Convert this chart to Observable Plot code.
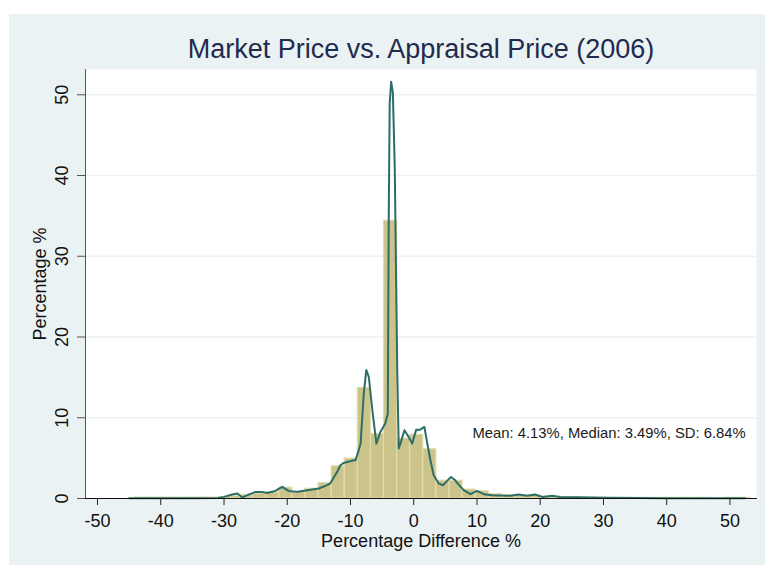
<!DOCTYPE html>
<html>
<head>
<meta charset="utf-8">
<script src="https://cdn.jsdelivr.net/npm/d3@7"></script>
<script src="https://cdn.jsdelivr.net/npm/@observablehq/plot@0.6"></script>
<style>
  html, body { margin: 0; padding: 0; background: #ffffff; }
  #panel { position: absolute; left: 9px; top: 14px; width: 756px; height: 551px; background: #eaf2f3; overflow: hidden; }
  #title { position: absolute; left: 412px; top: 22px; transform: translateX(-50%); white-space: nowrap;
           font-family: "Liberation Sans", Arial, sans-serif; font-size: 27px; line-height: 27px; color: #1e2b4e; }
  #chart { position: absolute; left: 0; top: 55px; }
</style>
</head>
<body>
<div id="panel">
  <div id="title"></div>
  <div id="chart"></div>
</div>
<script>
// ---------- data ----------
const titleText = "Market Price vs. Appraisal Price (2006)";
const xLabel = "Percentage Difference %";
const yLabel = "Percentage %";
const noteText = "Mean: 4.13%, Median: 3.49%, SD: 6.84%";
const noteX = 9.3;
const noteY = 8.1;

const xTicks = [-50, -40, -30, -20, -10, 0, 10, 20, 30, 40, 50];
const yTicks = [0, 10, 20, 30, 40, 50];

// histogram (percent per bin)
const binStart = -44.03;
const binWidth = 2.07;
const binPct = [0.12, 0.12, 0.12, 0.12, 0.12, 0.12, 0.12, 0.3, 0.45, 0.6,
                0.75, 1.35, 0.85, 1.2, 1.9, 4.0, 4.95, 13.7, 8.0, 34.4,
                7.4, 7.9, 6.1, 2.2, 2.2, 1.1, 0.9, 0.55, 0.4, 0.35,
                0.35, 0.2, 0.15, 0.12, 0.1, 0.1, 0.08, 0.08, 0.08, 0.08,
                0.08, 0.08, 0.08, 0.08, 0, 0.08, 0.08];

// kernel density overlay (scaled to percent)
const kdeX = [-45, -40, -35, -31, -30, -28.7, -27.9, -27.1, -26.3, -25.0, -24.0, -23.2, -21.9, -20.8, -19.8,
              -18.4, -17.9, -16.8, -15.0, -13.7, -13.2, -12.6, -12.1, -11.6, -11.1, -10.5, -9.5, -9.2, -8.7, -8.4,
              -7.9, -7.5, -7.1, -6.6, -5.9, -5.3, -4.5, -4.1, -3.95, -3.8, -3.57, -3.3, -3.0, -2.6, -2.37,
              -2.1, -1.47, -0.94, -0.25, 0.38, 0.95, 1.69, 2.1, 2.64, 3.16, 3.95, 4.6, 5.28, 5.9, 6.5,
              6.86, 7.9, 8.96, 10.0, 11.1, 12.4, 13.7, 15.3, 16.6, 17.9, 19.2, 20.3, 21.9, 23.2, 26,
              30, 35, 40, 45, 50, 52.4];
const kdeY = [0.02, 0.02, 0.03, 0.05, 0.2, 0.5, 0.62, 0.12, 0.41, 0.82, 0.82, 0.69, 0.94, 1.44, 0.94,
              0.82, 0.9, 1.03, 1.24, 1.65, 1.86, 2.67, 3.3, 4.12, 4.4, 4.53, 4.74, 4.74, 6.0, 6.8,
              13.0, 15.9, 15.05, 11.3, 6.8, 8.2, 9.3, 10.5, 34.9, 48.9, 51.6, 50.3, 41.0, 15.5, 6.2,
              6.8, 8.45, 7.8, 6.8, 8.5, 8.5, 8.86, 7.0, 4.74, 2.88, 1.86, 1.65, 2.18, 2.67, 2.3,
              1.93, 1.03, 0.53, 0.94, 0.53, 0.41, 0.37, 0.33, 0.5, 0.33, 0.5, 0.2, 0.33, 0.2, 0.15,
              0.08, 0.05, 0.04, 0.03, 0.02, 0.02];

// ---------- build ----------
const bins = binPct.map((p, i) => ({x1: binStart + i * binWidth, x2: binStart + (i + 1) * binWidth, pct: p}));
const kde = kdeX.map((x, i) => ({x, y: kdeY[i]}));

document.getElementById("title").textContent = titleText;

const chart = Plot.plot({
  width: 756,
  height: 496,
  marginLeft: 76,
  marginRight: 9,
  marginTop: 0,
  marginBottom: 67,
  style: {fontFamily: "'Liberation Sans', Arial, sans-serif", fontSize: "18px", background: "transparent", color: "#111"},
  x: {domain: [-51.9, 54.2]},
  y: {domain: [0, 53.13]},
  marks: [
    Plot.frame({fill: "#ffffff", stroke: "none"}),
    Plot.gridY(yTicks.filter(d => d > 0), {stroke: "#eaf2f3", strokeOpacity: 1, strokeWidth: 1.5}),
    Plot.rectY(bins, {x1: "x1", x2: "x2", y: "pct", fill: "#cbc38a", stroke: "#e3dcae", strokeWidth: 1.2}),
    Plot.line(kde, {x: "x", y: "y", stroke: "#2b6e68", strokeWidth: 2}),
    Plot.text([noteText], {x: () => noteX, y: () => noteY, text: d => d, textAnchor: "start", lineAnchor: "middle", fontSize: 14.8, fill: "#1a1a1a"}),
    Plot.frame({anchor: "left", stroke: "#555"}),
    Plot.frame({anchor: "bottom", stroke: "#111"}),
    Plot.axisX(xTicks, {tickSize: 7, tickPadding: 9, tickFormat: d => String(d), label: xLabel, labelAnchor: "center", labelOffset: 48, labelArrow: "none", stroke: "#222"}),
    Plot.axisY(yTicks, {tickSize: 8, tickPadding: 10, tickRotate: -90, tickFormat: d => String(d), label: yLabel, labelAnchor: "center", labelOffset: 52, labelArrow: "none", stroke: "#555"})
  ]
});
document.getElementById("chart").appendChild(chart);
</script>
</body>
</html>
